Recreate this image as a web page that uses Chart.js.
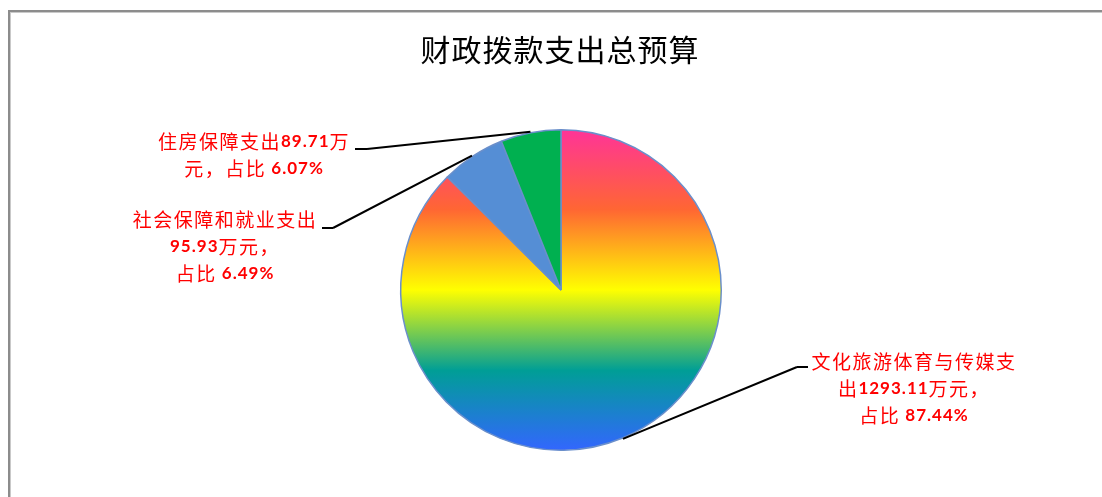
<!DOCTYPE html>
<html>
<head>
<meta charset="utf-8">
<title>财政拨款支出总预算</title>
<script src="https://cdn.jsdelivr.net/npm/chart.js@4/dist/chart.umd.min.js"></script>
<style>
  html, body { margin: 0; padding: 0; background: #ffffff; }
  #wrap { width: 1102px; height: 497px; position: relative; }
</style>
</head>
<body>
<div id="wrap"><canvas id="pie" width="1102" height="497"></canvas></div>
<script>
// Budget categories, amounts (万元) and stated shares
const categories = ['文化旅游体育与传媒支出', '社会保障和就业支出', '住房保障支出'];
const amounts = [1293.11, 95.93, 89.71];
const shares = ['87.44%', '6.49%', '6.07%'];
const chartTitle = '财政拨款支出总预算';

// Slice fills (first slice uses a vertical rainbow gradient)
const sliceColors = [null, '#558ED5', '#00B050'];
const rainbowStops = [
  [0.00, '#FF3399'],
  [0.25, '#FF6633'],
  [0.50, '#FFFF00'],
  [0.75, '#009E96'],
  [1.00, '#3366FF']
];

// Callout layout: text centre, first row, line breaks, elbow stub
const calloutLayout = [
  { cx: 914, y: 362, breaks: [10, 21], stub: [797, 808, 367], from: 797 },
  { cx: 225, y: 220, breaks: [9, 17],  stub: [322, 333, 228], from: 333 },
  { cx: 254, y: 142, breaks: [12],     stub: [355, 367, 149], from: 367 }
];
const lineGap = 27;

const CJK_FONT = '19px "Noto Sans CJK SC", "Noto Sans", sans-serif';
const NUM_FONT = 'bold 17px Lato, "Open Sans", sans-serif';
const CJK_SPACING = '1.5px';
const NUM_SPACING = '1px';

function splitRuns(str) {
  const runs = [];
  const re = /[\x20-\x7E]+|[^\x20-\x7E]+/g;
  let m;
  while ((m = re.exec(str)) !== null) {
    runs.push({ text: m[0], ascii: /^[\x20-\x7E]/.test(m[0]) });
  }
  return runs;
}

function setRunStyle(ctx, ascii) {
  ctx.font = ascii ? NUM_FONT : CJK_FONT;
  ctx.letterSpacing = ascii ? NUM_SPACING : CJK_SPACING;
}

function drawMixedLine(ctx, str, cx, cy) {
  const runs = splitRuns(str);
  let total = 0;
  runs.forEach(r => {
    setRunStyle(ctx, r.ascii);
    r.w = ctx.measureText(r.text).width;
    total += r.w;
  });
  let x = cx - total / 2;
  runs.forEach(r => {
    setRunStyle(ctx, r.ascii);
    ctx.fillText(r.text, x, cy);
    x += r.w;
  });
  ctx.letterSpacing = '0px';
}

const framePlugin = {
  id: 'frame',
  beforeDraw(chart) {
    const ctx = chart.ctx;
    ctx.save();
    ctx.fillStyle = '#8c8c8c';
    ctx.fillRect(8, 10, 1094, 2);
    ctx.fillRect(8, 10, 2, 487);
    ctx.fillStyle = '#c9c9c9';
    ctx.fillRect(10, 12, 1092, 1);
    ctx.fillRect(10, 12, 1, 485);
    // title
    ctx.fillStyle = '#000000';
    ctx.font = '30px "Noto Sans CJK SC", sans-serif';
    ctx.letterSpacing = '1px';
    ctx.textAlign = 'center';
    ctx.textBaseline = 'middle';
    ctx.fillText(chartTitle, 560, 50);
    ctx.letterSpacing = '0px';
    ctx.restore();
  }
};

const calloutPlugin = {
  id: 'callouts',
  afterDatasetsDraw(chart) {
    const ctx = chart.ctx;
    const arcs = chart.getDatasetMeta(0).data;
    ctx.save();
    arcs.forEach((arc, i) => {
      const lay = calloutLayout[i];
      const p = arc.getProps(['x', 'y', 'startAngle', 'endAngle', 'outerRadius'], true);
      const mid = (p.startAngle + p.endAngle) / 2;
      const ax = p.x + Math.cos(mid) * (p.outerRadius + 1);
      const ay = p.y + Math.sin(mid) * (p.outerRadius + 1);
      // leader line
      ctx.strokeStyle = '#000000';
      ctx.lineWidth = 2;
      ctx.lineCap = 'butt';
      ctx.beginPath();
      ctx.moveTo(ax, ay);
      ctx.lineTo(lay.from, lay.stub[2]);
      ctx.moveTo(lay.stub[0], lay.stub[2]);
      ctx.lineTo(lay.stub[1], lay.stub[2]);
      ctx.stroke();
      // label text
      const full = categories[i] + amounts[i].toFixed(2) + '万元，占比 ' + shares[i];
      const lines = [];
      let start = 0;
      lay.breaks.forEach(b => { lines.push(full.slice(start, b)); start = b; });
      lines.push(full.slice(start));
      ctx.fillStyle = '#FF0000';
      ctx.textAlign = 'left';
      ctx.textBaseline = 'middle';
      lines.forEach((ln, k) => drawMixedLine(ctx, ln, lay.cx, lay.y + k * lineGap));
    });
    ctx.restore();
  }
};

function sliceFill(context) {
  const i = context.dataIndex;
  if (sliceColors[i]) return sliceColors[i];
  const area = context.chart.chartArea;
  if (!area) return '#FFFF00';
  const g = context.chart.ctx.createLinearGradient(0, area.top, 0, area.bottom);
  rainbowStops.forEach(([o, c]) => g.addColorStop(o, c));
  return g;
}

new Chart(document.getElementById('pie'), {
  type: 'pie',
  data: {
    labels: categories,
    datasets: [{
      data: amounts,
      backgroundColor: sliceFill,
      borderColor: '#6A8FCB',
      borderWidth: 1.5
    }]
  },
  options: {
    responsive: false,
    animation: false,
    events: [],
    layout: { padding: { top: 129, bottom: 46, left: 400, right: 380 } },
    plugins: {
      legend: { display: false },
      title: { display: false },
      tooltip: { enabled: false }
    }
  },
  plugins: [framePlugin, calloutPlugin]
});
</script>
</body>
</html>
